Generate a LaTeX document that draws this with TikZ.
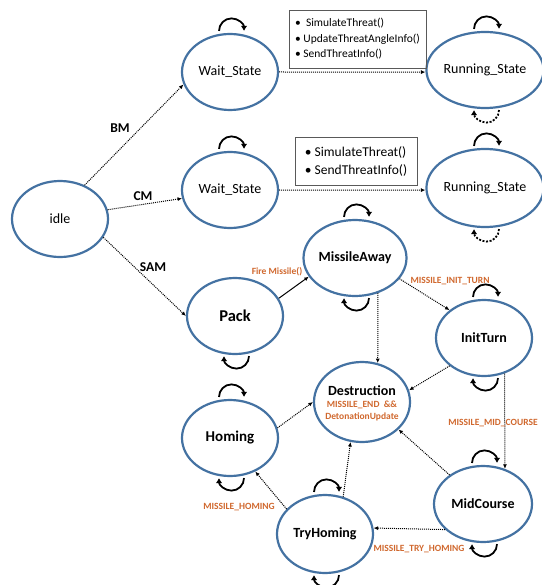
\documentclass[tikz,border=0pt]{standalone}
\usepackage{fontspec}
\setmainfont{Carlito}
\usetikzlibrary{shapes.geometric,arrows.meta,calc}
\definecolor{stateblue}{RGB}{68,114,162}
\definecolor{evtorange}{RGB}{208,104,46}
\tikzset{
  state/.style={ellipse, draw=stateblue, line width=2.2pt, minimum width=96pt,
    minimum height=76pt, inner sep=0pt, font=\fontsize{14}{16}\selectfont},
  bstate/.style={state, font=\fontsize{14}{16}\selectfont\bfseries},
  trans/.style={densely dotted, line width=1pt, -{Latex[length=4.5pt,width=4pt]}},
  fire/.style={line width=1pt, -{Latex[length=4.5pt,width=4pt]}},
  evt/.style={text=evtorange, font=\fontsize{9.5}{12}\selectfont\bfseries, inner sep=0pt},
  guard/.style={font=\fontsize{13.5}{15}\selectfont\bfseries, inner sep=0pt},
  selfloop/.style={line width=1.8pt, -{Latex[length=5pt,width=6.5pt]}},
  dashloop/.style={selfloop, dash pattern=on 2pt off 1.6pt},
  infobox/.style={draw=black!65, line width=0.8pt, align=left, inner sep=0pt}
}
% self-transition arcs drawn just above / below a state
\newcommand\looptop[2][]{\draw[selfloop,#1] ($(#2.north)+(-11,2)$) arc[start angle=180,end angle=0,radius=12.5];}
\newcommand\loopbottom[2][selfloop]{\draw[#1] ($(#2.south)+(14,-1)$) arc[start angle=0,end angle=-180,radius=12.5];}
\begin{document}
\begin{tikzpicture}[x=1pt,y=1pt]
\useasboundingbox (0,0) rectangle (541,-585);

% states
\node[state]  (idle) at (60,-219)  {idle};
\node[state]  (ws1)  at (230,-72)  {Wait\_State};
\node[state]  (ws2)  at (230,-190) {Wait\_State};
\node[state]  (rs1)  at (485,-70)  {Running\_State};
\node[state, minimum width=100pt, minimum height=78pt] (rs2) at (485,-188) {Running\_State};
\node[bstate] (ma)   at (355,-258) {MissileAway};
\node[bstate, font=\fontsize{16.5}{18}\selectfont\bfseries] (pack) at (235,-316) {Pack};
\node[bstate] (it)   at (484,-338) {InitTurn};
\node[bstate, minimum height=80pt] (des) at (362,-402) {};
\node[font=\fontsize{14}{16}\selectfont\bfseries, inner sep=0pt] (desname) at ($(des)+(0,11)$) {Destruction};
\node[evt, align=center] (desnote) at ($(des)+(0,-9)$) {MISSILE\_END \ \&\&\\DetonationUpdate};
\node[bstate, font=\fontsize{15}{17}\selectfont\bfseries] (hom) at (230,-438) {Homing};
\node[bstate, minimum height=78pt] (th) at (325,-534) {TryHoming};
\node[bstate, minimum width=98pt] (mc) at (483,-504) {MidCourse};

% action lists
\node[infobox, minimum width=137pt, minimum height=58pt,
      font=\fontsize{11.5}{15.5}\selectfont] (box1) at (357.5,-39)
  {•\ \ SimulateThreat()\\• UpdateThreatAngleInfo()\\• SendThreatInfo()};
\node[infobox, minimum width=122pt, minimum height=48pt,
      font=\fontsize{13.5}{18}\selectfont] (box2) at (356,-161)
  {• SimulateThreat()\\• SendThreatInfo()};

% transitions
\draw[trans] (idle.54)  -- (ws1.195);
\draw[trans] (idle.11)  -- (ws2.190);
\draw[trans] (idle.-23) -- (pack.180);
\draw[trans] (ws1.east) -- (rs1.182);
\draw[trans] (ws2.east) -- (rs2.182);
\draw[fire]  (pack.22)  -- (ma.202);
\draw[trans] (ma.-25)   -- (it.141);
\draw[trans] (ma.-57)   -- (des.68);
\draw[trans] (it.219)   -- (des.14);
\draw[trans] (it.-60)   -- (mc.58);
\draw[trans] (mc.139)   -- (des.-37);
\draw[trans] (mc.214)   -- (th.7);
\draw[trans] (th.147)   -- (hom.-53);
\draw[trans] (th.64)    -- (des.254);
\draw[trans] (hom.12)   -- (des.180);

% self transitions
\looptop{ws1}
\looptop{ws2}
\looptop{rs1}
\loopbottom[dashloop]{rs1}
\looptop{rs2}
\loopbottom[dashloop]{rs2}
\looptop{ma}
\loopbottom{ma}
\loopbottom{pack}
\looptop{it}
\loopbottom{it}
\looptop{hom}
\loopbottom{hom}
\looptop{th}
\loopbottom{th}
\looptop{mc}
\loopbottom{mc}

% guards and events
\node[guard] (gbm)  at (120,-128) {BM};
\node[guard] (gcm)  at (143,-196) {CM};
\node[guard] (gsam) at (153,-267) {SAM};
\node[evt] (efire)  at (277,-272) {Fire Missile()};
\node[evt] (einit)  at (450,-281) {MISSILE\_INIT\_TURN};
\node[evt] (emid)   at (493,-423) {MISSILE\_MID\_COURSE};
\node[evt] (etry)   at (419,-549) {MISSILE\_TRY\_HOMING};
\node[evt] (ehom)   at (239,-507) {MISSILE\_HOMING};
\end{tikzpicture}
\end{document}
